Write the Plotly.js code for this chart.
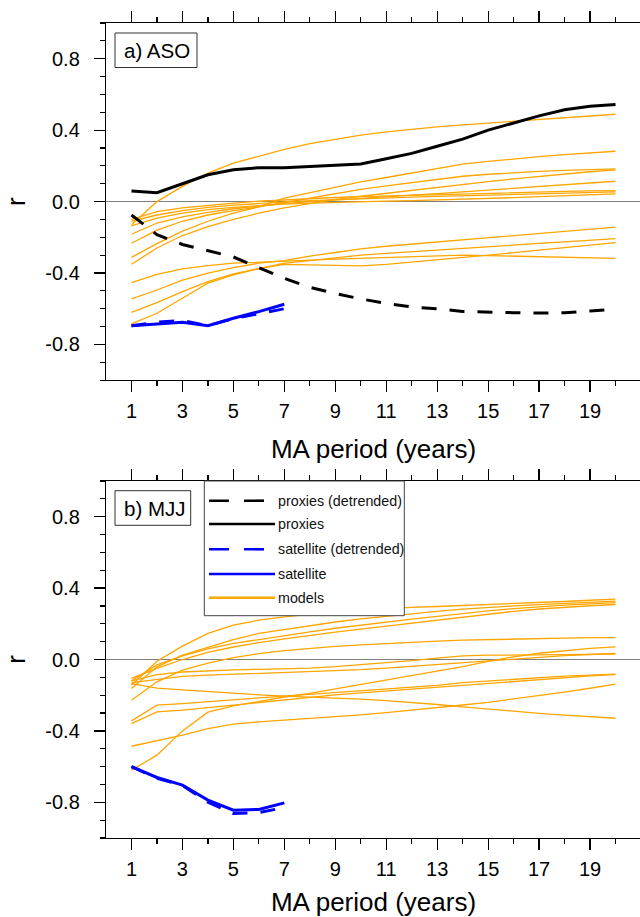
<!DOCTYPE html>
<html>
<head>
<meta charset="utf-8">
<script src="https://cdn.plot.ly/plotly-3.0.1.min.js"></script>
<style>
  html, body { margin: 0; padding: 0; overflow: hidden; background: #ffffff; }
  #chart { width: 645px; height: 940px; }
</style>
</head>
<body>
<div id="chart"></div>
<script>
// ---------------- data ----------------
const maPeriod = [1,2,3,4,5,6,7,8,9,10,11,12,13,14,15,16,17,18,19,20];
const satPeriod = [1,2,3,4,5,6,7];

const xTickVals = [1,3,5,7,9,11,13,15,17,19];
const xTickText = ['1','3','5','7','9','11','13','15','17','19'];
const xMinorVals = [2,4,6,8,10,12,14,16,18,20];
const yTickVals = [-0.8,-0.4,0,0.4,0.8];
const yTickText = ['-0.8','-0.4','0.0','0.4','0.8'];

const legendLabels = ['proxies (detrended)','proxies','satellite (detrended)','satellite','models'];

// a) ASO
const asoProxies    = [0.06,0.05,0.10,0.15,0.178,0.19,0.19,0.196,0.20,0.21,0.24,0.27,0.31,0.35,0.40,0.44,0.48,0.514,0.534,0.543];
const asoProxiesDet = [-0.075,-0.185,-0.24,-0.275,-0.31,-0.37,-0.43,-0.48,-0.515,-0.545,-0.57,-0.59,-0.60,-0.615,-0.62,-0.622,-0.624,-0.622,-0.613,-0.603];
const asoSat        = [-0.695,-0.685,-0.676,-0.695,-0.653,-0.616,-0.575];
const asoSatDet     = [-0.695,-0.675,-0.665,-0.695,-0.655,-0.628,-0.600];

const asoM01 = [-0.13,0.0,0.085,0.16,0.215,0.255,0.293,0.325,0.35,0.372,0.39,0.405,0.418,0.43,0.44,0.45,0.46,0.47,0.48,0.489];
const asoM02 = [-0.312,-0.235,-0.165,-0.11,-0.065,-0.03,0.02,0.05,0.08,0.11,0.135,0.16,0.185,0.21,0.225,0.24,0.252,0.263,0.273,0.282];
const asoM03 = [-0.233,-0.16,-0.11,-0.075,-0.05,-0.03,-0.005,0.02,0.045,0.068,0.088,0.107,0.125,0.142,0.153,0.162,0.169,0.175,0.179,0.183];
const asoM04 = [-0.351,-0.26,-0.19,-0.14,-0.10,-0.065,-0.035,-0.01,0.012,0.03,0.047,0.063,0.08,0.097,0.112,0.127,0.141,0.155,0.167,0.178];
const asoM05 = [-0.183,-0.12,-0.085,-0.06,-0.04,-0.025,-0.01,0.0,0.01,0.02,0.028,0.036,0.045,0.055,0.065,0.075,0.085,0.095,0.105,0.114];
const asoM06 = [-0.10,-0.056,-0.035,-0.02,-0.008,0.002,0.01,0.017,0.023,0.028,0.032,0.036,0.04,0.044,0.048,0.051,0.054,0.057,0.06,0.062];
const asoM07 = [-0.11,-0.075,-0.05,-0.032,-0.02,-0.01,-0.002,0.005,0.011,0.017,0.021,0.025,0.029,0.033,0.037,0.041,0.045,0.048,0.051,0.054];
const asoM08 = [-0.136,-0.093,-0.065,-0.045,-0.032,-0.022,-0.014,-0.008,-0.003,0.0,0.003,0.006,0.009,0.012,0.016,0.022,0.028,0.033,0.038,0.043];
const asoM09 = [-0.545,-0.495,-0.44,-0.40,-0.37,-0.345,-0.33,-0.305,-0.285,-0.265,-0.25,-0.238,-0.226,-0.215,-0.204,-0.192,-0.18,-0.168,-0.155,-0.143];
const asoM10 = [-0.62,-0.566,-0.504,-0.448,-0.405,-0.373,-0.345,-0.33,-0.315,-0.30,-0.29,-0.28,-0.271,-0.263,-0.253,-0.244,-0.234,-0.225,-0.216,-0.207];
const asoM11 = [-0.685,-0.625,-0.541,-0.457,-0.41,-0.375,-0.352,-0.355,-0.358,-0.36,-0.352,-0.34,-0.327,-0.314,-0.30,-0.286,-0.272,-0.258,-0.244,-0.23];
const asoM12 = [-0.454,-0.407,-0.377,-0.358,-0.345,-0.338,-0.333,-0.328,-0.322,-0.317,-0.312,-0.308,-0.304,-0.300,-0.302,-0.305,-0.308,-0.311,-0.315,-0.318];

// b) MJJ
const mjjSat    = [-0.60,-0.661,-0.704,-0.788,-0.844,-0.84,-0.803];
const mjjSatDet = [-0.60,-0.665,-0.705,-0.80,-0.863,-0.858,-0.829];

const mjjM01 = [-0.144,-0.01,0.075,0.146,0.192,0.22,0.239,0.255,0.268,0.278,0.286,0.292,0.297,0.302,0.307,0.312,0.318,0.325,0.332,0.338];
const mjjM02 = [-0.163,-0.041,0.024,0.067,0.112,0.146,0.168,0.19,0.21,0.228,0.243,0.257,0.27,0.282,0.292,0.30,0.307,0.313,0.32,0.327];
const mjjM03 = [-0.12,-0.03,0.02,0.06,0.09,0.113,0.135,0.155,0.175,0.193,0.21,0.226,0.242,0.258,0.272,0.285,0.296,0.305,0.312,0.319];
const mjjM04 = [-0.106,-0.05,0.0,0.04,0.07,0.095,0.115,0.135,0.153,0.17,0.187,0.205,0.222,0.24,0.256,0.27,0.283,0.293,0.301,0.308];
const mjjM05 = [-0.228,-0.125,-0.06,-0.02,0.01,0.033,0.05,0.063,0.073,0.082,0.09,0.097,0.103,0.108,0.112,0.115,0.118,0.12,0.122,0.123];
const mjjM06 = [-0.12,-0.085,-0.07,-0.062,-0.058,-0.055,-0.053,-0.048,-0.04,-0.03,-0.018,-0.006,0.008,0.02,0.024,0.026,0.027,0.028,0.029,0.03];
const mjjM07 = [-0.129,-0.11,-0.095,-0.088,-0.083,-0.079,-0.075,-0.07,-0.064,-0.057,-0.048,-0.038,-0.027,-0.015,-0.004,0.006,0.015,0.022,0.028,0.034];
const mjjM08 = [-0.62,-0.536,-0.40,-0.295,-0.26,-0.235,-0.21,-0.19,-0.165,-0.14,-0.115,-0.09,-0.065,-0.04,-0.01,0.015,0.035,0.05,0.062,0.071];
const mjjM09 = [-0.344,-0.256,-0.247,-0.235,-0.225,-0.215,-0.205,-0.195,-0.185,-0.175,-0.165,-0.155,-0.145,-0.13,-0.12,-0.11,-0.10,-0.093,-0.087,-0.082];
const mjjM10 = [-0.359,-0.293,-0.284,-0.27,-0.255,-0.24,-0.225,-0.21,-0.198,-0.187,-0.176,-0.165,-0.155,-0.145,-0.133,-0.122,-0.11,-0.10,-0.092,-0.085];
const mjjM11 = [-0.135,-0.16,-0.17,-0.18,-0.19,-0.198,-0.205,-0.21,-0.215,-0.222,-0.23,-0.24,-0.252,-0.265,-0.278,-0.29,-0.302,-0.312,-0.321,-0.329];
const mjjM12 = [-0.486,-0.456,-0.424,-0.387,-0.362,-0.349,-0.34,-0.33,-0.32,-0.31,-0.298,-0.285,-0.27,-0.255,-0.24,-0.222,-0.203,-0.183,-0.161,-0.138];

// ---------------- styling ----------------
const ORANGE = '#FFA500', BLUE = '#0000FF', BLACK = '#000000';
const DASH_PLOT = '15px,13px';
const DASH_LEGEND = '20px,15px';
const FONT = 'Liberation Sans, Arial, Helvetica, sans-serif';

const asoModels = [asoM01,asoM02,asoM03,asoM04,asoM05,asoM06,asoM07,asoM08,asoM09,asoM10,asoM11,asoM12];
const mjjModels = [mjjM01,mjjM02,mjjM03,mjjM04,mjjM05,mjjM06,mjjM07,mjjM08,mjjM09,mjjM10,mjjM11,mjjM12];

function line(x, y, color, width, dash, xa, ya) {
  return { type: 'scatter', mode: 'lines', x: x, y: y, xaxis: xa, yaxis: ya,
           line: { color: color, width: width, dash: dash || 'solid' },
           hoverinfo: 'skip', showlegend: false };
}

const traces = [];
asoModels.forEach(m => traces.push(line(maPeriod, m, ORANGE, 1.3, null, 'x', 'y')));
traces.push(line(maPeriod, asoProxies, BLACK, 3, null, 'x', 'y'));
traces.push(line(maPeriod, asoProxiesDet, BLACK, 3, DASH_PLOT, 'x', 'y'));
traces.push(line(satPeriod, asoSat, BLUE, 3, null, 'x', 'y'));
traces.push(line(satPeriod, asoSatDet, BLUE, 3, DASH_PLOT, 'x', 'y'));

mjjModels.forEach(m => traces.push(line(maPeriod, m, ORANGE, 1.3, null, 'x2', 'y2')));
traces.push(line(satPeriod, mjjSat, BLUE, 3, null, 'x2', 'y2'));
traces.push(line(satPeriod, mjjSatDet, BLUE, 3, DASH_PLOT, 'x2', 'y2'));

// geometry helpers (pixel -> paper)
const ML = 106, PW = 535, PT = 23, PB = 838, PH = PB - PT;
const px = v => (v - ML) / PW;
const py = v => (PB - v) / PH;

function xAxis(anchor, titleStandoff) {
  return {
    anchor: anchor, domain: [0, 1], range: [0, 21],
    tickmode: 'array', tickvals: xTickVals, ticktext: xTickText,
    ticks: 'outside', ticklen: 11, tickwidth: 1.2, tickcolor: BLACK,
    minor: { tickmode: 'array', tickvals: xMinorVals, ticks: 'outside', ticklen: 5, tickwidth: 1.2, tickcolor: BLACK, showgrid: false },
    showline: true, linecolor: BLACK, linewidth: 1.2, mirror: 'allticks',
    showgrid: false, zeroline: false,
    tickfont: { family: FONT, size: 20, color: BLACK },
    ticklabelstandoff: 2,
    title: { text: 'MA period (years)', font: { family: FONT, size: 26, color: BLACK }, standoff: titleStandoff }
  };
}
function yAxis(anchor, domain) {
  return {
    anchor: anchor, domain: domain, range: [-1, 1],
    tickmode: 'array', tickvals: yTickVals, ticktext: yTickText,
    ticks: 'outside', ticklen: 11, tickwidth: 1.2, tickcolor: BLACK,
    minor: { tickmode: 'linear', tick0: 0, dtick: 0.1, ticks: 'outside', ticklen: 5, tickwidth: 1.2, tickcolor: BLACK, showgrid: false },
    showline: true, linecolor: BLACK, linewidth: 1.2, mirror: 'allticks',
    showgrid: false, zeroline: true, zerolinecolor: '#808080', zerolinewidth: 1.3,
    tickfont: { family: FONT, size: 20, color: BLACK },
    ticklabelstandoff: 10,
    title: { text: 'r', font: { family: FONT, size: 26, color: BLACK }, standoff: 12 }
  };
}

const shapes = [];
const annotations = [];

// panel label boxes
function panelLabel(text, x0, x1, y0, y1, tx) {
  shapes.push({ type: 'rect', xref: 'paper', yref: 'paper', x0: px(x0), x1: px(x1), y0: py(y1), y1: py(y0),
                line: { color: '#333333', width: 1 }, fillcolor: '#ffffff', layer: 'above' });
  annotations.push({ xref: 'paper', yref: 'paper', x: px(tx), y: py((y0 + y1) / 2), xanchor: 'left', yanchor: 'middle',
                     text: text, showarrow: false, font: { family: FONT, size: 20.5, color: BLACK } });
}
panelLabel('a) ASO', 115, 197, 33, 67.5, 122.4);
panelLabel('b) MJJ', 115, 190.7, 490.7, 525.3, 121.7);

// legend in panel b
shapes.push({ type: 'rect', xref: 'paper', yref: 'paper', x0: px(204.3), x1: px(404.3), y0: py(615.7), y1: py(481),
              line: { color: '#444444', width: 1 }, fillcolor: '#ffffff', layer: 'above' });
const legRows = [500.7, 524, 549.3, 574, 597.7];
const legColors = [BLACK, BLACK, BLUE, BLUE, ORANGE];
const legDash = [DASH_LEGEND, 'solid', DASH_LEGEND, 'solid', 'solid'];
legendLabels.forEach((lab, i) => {
  shapes.push({ type: 'line', xref: 'paper', yref: 'paper', x0: px(209), x1: px(275), y0: py(legRows[i]), y1: py(legRows[i]),
                line: { color: legColors[i], width: 2.6, dash: legDash[i] }, layer: 'above' });
  annotations.push({ xref: 'paper', yref: 'paper', x: px(275.5), y: py(legRows[i]), xanchor: 'left', yanchor: 'middle',
                     text: lab, showarrow: false, font: { family: FONT, size: 14.3, color: '#111111' } });
});

const layout = {
  width: 645, height: 940,
  margin: { l: ML, r: 645 - ML - PW, t: PT, b: 940 - PB },
  paper_bgcolor: '#ffffff', plot_bgcolor: '#ffffff',
  showlegend: false,
  font: { family: FONT, color: BLACK },
  xaxis: xAxis('y', 18),
  yaxis: yAxis('x', [py(380.2), 1]),
  xaxis2: xAxis('y2', 13),
  yaxis2: yAxis('x2', [0, py(481)]),
  shapes: shapes,
  annotations: annotations
};

Plotly.newPlot('chart', traces, layout, { displayModeBar: false, staticPlot: true });
</script>
</body>
</html>
